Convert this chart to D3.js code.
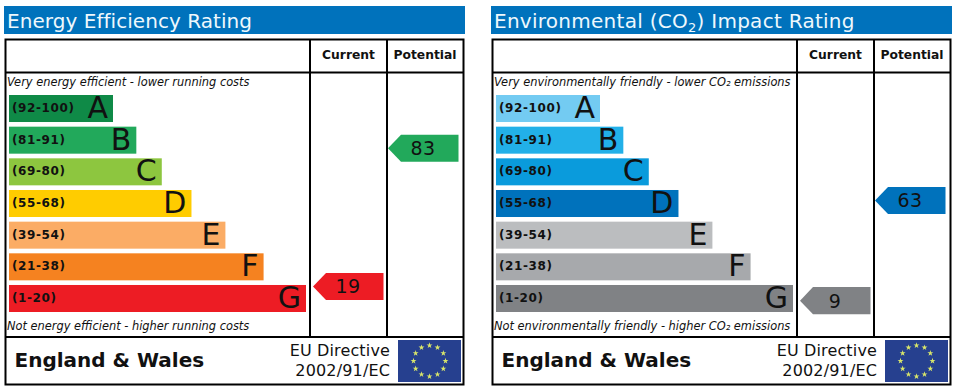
<!DOCTYPE html>
<html>
<head>
<meta charset="utf-8">
<script src="https://cdn.jsdelivr.net/npm/d3@7"></script>
<style>
  body { margin: 0; background: #fff; }
  text { font-family: "DejaVu Sans", sans-serif; fill: #111; }
</style>
</head>
<body>
<svg width="957" height="392"></svg>
<script>
const bands = ['A', 'B', 'C', 'D', 'E', 'F', 'G']
const rangeHigh = [100, 91, 80, 68, 54, 38, 20]
const rangeLow = [92, 81, 69, 55, 39, 21, 1]
const energyColors = ['#0f8a47', '#22a95b', '#8dc63f', '#ffcc00', '#fbac65', '#f58220', '#ed1c24']
const impactColors = ['#73cbf2', '#22b0e8', '#0a9bdc', '#0072bc', '#bbbdbf', '#a7a9ac', '#808285']
const columnLabels = ['Current', 'Potential']
const energyScores = [19, 83]
const impactScores = [9, 63]

const svg = d3.select('svg')

const xBar = d3.scaleLinear().domain([92, 1]).range([113, 306])
const yBand = d3.scaleBand().domain(bands).range([95, 312]).paddingInner(0.147)
const columnX = d3.scaleOrdinal().domain(columnLabels).range([313, 388])

// where a score sits inside its band, top of the bar = top of the range
const scoreY = score => {
    const i = bands.findIndex((b, k) => score >= rangeLow[k] && score <= rangeHigh[k])
    const inner = d3.scaleLinear()
        .domain([rangeHigh[i], rangeLow[i]])
        .range([0, yBand.bandwidth()])
    return yBand(bands[i]) + inner(score)
}

const drawPanel = (offset, panel) => {
    const g = svg.append('g').attr('transform', `translate(${offset},0)`)

    g.append('rect')
        .attr('x', 4).attr('y', 6)
        .attr('width', 461).attr('height', 28)
        .attr('fill', '#0072bc')

    const title = g.append('text')
        .attr('x', 7).attr('y', 28)
        .attr('font-size', 20)
        .attr('letter-spacing', panel.titleSpacing)
        .style('fill', '#eef8fd')
    panel.title.forEach(part => {
        title.append('tspan')
            .attr('font-size', part.sub ? 13 : null)
            .attr('dy', part.sub ? 4 : part.after ? -4 : null)
            .text(part.text)
    })

    // frame and rules
    const lines = [
        [5, 72.5, 464, 72.5], [5, 337, 464, 337],
        [310, 39, 310, 337], [387, 39, 387, 337]
    ]
    g.append('rect')
        .attr('x', 5.5).attr('y', 39.5)
        .attr('width', 458).attr('height', 345)
        .attr('fill', 'none').attr('stroke', '#000').attr('stroke-width', 2)
    g.selectAll('line').data(lines).enter().append('line')
        .attr('x1', d => d[0]).attr('y1', d => d[1])
        .attr('x2', d => d[2]).attr('y2', d => d[3])
        .attr('stroke', '#000').attr('stroke-width', 2)

    g.selectAll('.col').data(columnLabels).enter().append('text')
        .attr('class', 'col')
        .attr('x', (d, i) => i === 0 ? 348.5 : 425)
        .attr('y', 59)
        .attr('text-anchor', 'middle')
        .attr('font-size', 12.3)
        .attr('font-weight', 'bold')
        .text(d => d)

    g.append('text').attr('x', 7).attr('y', 86)
        .attr('font-size', 11.4).attr('font-style', 'italic').text(panel.top)
    g.append('text').attr('x', 7).attr('y', 330)
        .attr('font-size', 11.4).attr('font-style', 'italic').text(panel.bottom)

    const rows = g.selectAll('.band').data(bands).enter().append('g').attr('class', 'band')
    rows.append('rect')
        .attr('x', xBar(92) - 104)
        .attr('y', d => yBand(d))
        .attr('width', (d, i) => xBar(rangeLow[i]) - (xBar(92) - 104))
        .attr('height', yBand.bandwidth())
        .attr('fill', (d, i) => panel.colors[i])
    rows.append('text')
        .attr('x', 12)
        .attr('y', d => yBand(d) + 17)
        .attr('font-size', 12)
        .attr('font-weight', 'bold')
        .attr('letter-spacing', 0.6)
        .text((d, i) => `(${rangeLow[i]}-${rangeHigh[i]})`)
    rows.append('text')
        .attr('x', (d, i) => xBar(rangeLow[i]) - 5)
        .attr('y', d => yBand(d) + 23)
        .attr('text-anchor', 'end')
        .attr('font-size', 30)
        .text(d => d)

    // score arrows
    const h = yBand.bandwidth()
    const arrow = d3.line()
    const scores = g.selectAll('.score').data(panel.scores).enter().append('g').attr('class', 'score')
        .attr('transform', (d, i) => `translate(${columnX(columnLabels[i])},${scoreY(d) - h / 2})`)
    scores.append('path')
        .attr('d', arrow([[0, h / 2], [13, 0], [70.5, 0], [70.5, h], [13, h]]) + 'Z')
        .attr('fill', d => panel.colors[bands.findIndex((b, k) => d >= rangeLow[k] && d <= rangeHigh[k])])
    scores.append('text')
        .attr('x', 35).attr('y', h / 2 + 7)
        .attr('text-anchor', 'middle')
        .attr('font-size', 19)
        .attr('letter-spacing', 0.5)
        .text(d => d)

    // footer
    g.append('text').attr('x', 14.5).attr('y', 367)
        .attr('font-size', 20).attr('font-weight', 'bold').text('England & Wales')
    g.append('text').attr('x', 390).attr('y', 356)
        .attr('text-anchor', 'end').attr('font-size', 16).attr('letter-spacing', 0.15).text('EU Directive')
    g.append('text').attr('x', 390).attr('y', 376)
        .attr('text-anchor', 'end').attr('font-size', 16).attr('letter-spacing', 0.15).text('2002/91/EC')

    g.append('rect')
        .attr('x', 398).attr('y', 340)
        .attr('width', 63).attr('height', 42)
        .attr('fill', '#26408f')
    g.selectAll('.star').data(d3.range(12)).enter().append('path')
        .attr('class', 'star')
        .attr('d', d3.symbol(d3.symbolStar, 11))
        .attr('fill', '#d9e66a')
        .attr('transform', d => {
            const a = d / 12 * 2 * Math.PI
            return `translate(${429.5 + 16 * Math.sin(a)},${361 - 15.5 * Math.cos(a)})`
        })
}

drawPanel(0, {
    title: [{ text: 'Energy Efficiency Rating' }],
    titleSpacing: 0.05,
    top: 'Very energy efficient - lower running costs',
    bottom: 'Not energy efficient - higher running costs',
    colors: energyColors,
    scores: energyScores
})

drawPanel(487, {
    title: [
        { text: 'Environmental (CO' },
        { text: '2', sub: true },
        { text: ') Impact Rating', after: true }
    ],
    titleSpacing: 0.27,
    top: 'Very environmentally friendly - lower CO₂ emissions',
    bottom: 'Not environmentally friendly - higher CO₂ emissions',
    colors: impactColors,
    scores: impactScores
})
</script>
</body>
</html>
